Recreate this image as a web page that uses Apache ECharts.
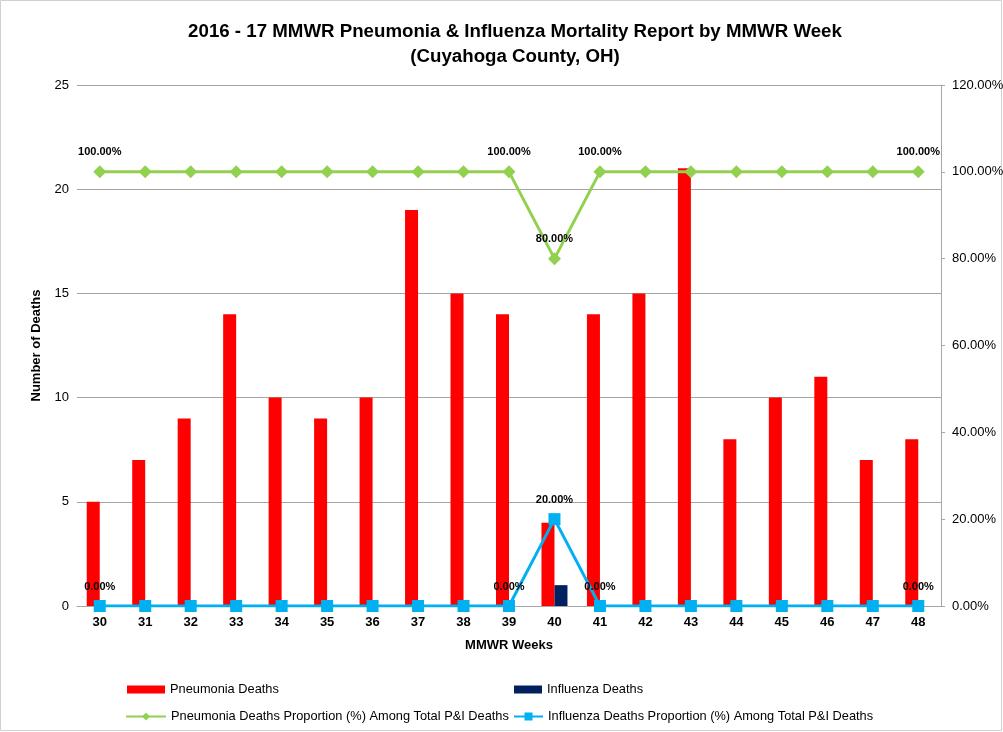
<!DOCTYPE html>
<html><head><meta charset="utf-8">
<script src="https://cdn.jsdelivr.net/npm/echarts@6/dist/echarts.min.js"></script>
<style>html,body{margin:0;padding:0;background:#fff}#c{width:1003px;height:732px}</style>
</head><body><div id="c"></div>
<script>
const weeks = ['30','31','32','33','34','35','36','37','38','39','40','41','42','43','44','45','46','47','48'];
const pneumoniaDeaths = [5,7,9,14,10,9,10,19,15,14,4,14,15,21,8,10,11,7,8];
const influenzaDeaths = [0,0,0,0,0,0,0,0,0,0,1,0,0,0,0,0,0,0,0];
const pneumoniaPct = [100,100,100,100,100,100,100,100,100,100,80,100,100,100,100,100,100,100,100];
const influenzaPct = [0,0,0,0,0,0,0,0,0,0,20,0,0,0,0,0,0,0,0];
const labeledIdx = [0,9,10,11,18];
const leftTicks = {min:0,max:25,interval:5};
const rightTicks = {min:0,max:120,interval:20};

const FONT = '"Liberation Sans", Arial, sans-serif';
function withLabels(arr){
  return arr.map((v,i)=>({value:v,label:{show:labeledIdx.includes(i)}}));
}
const lblStyle = {position:'top',distance:8,fontFamily:FONT,fontSize:11,fontWeight:'bold',color:'#000',
  formatter:p=>p.value.toFixed(2)+'%'};

const chart = echarts.init(document.getElementById('c'),null,{renderer:'canvas'});
const legendBase = {orient:'horizontal',padding:0,itemWidth:38,itemHeight:8,textStyle:{fontFamily:FONT,fontSize:12.8,color:'#000'},selectedMode:false,itemGap:4};
chart.setOption({
  animation:false,
  backgroundColor:'#fff',
  graphic:[{type:'rect',shape:{x:0.5,y:0.5,width:1001,height:730},style:{fill:'none',stroke:'#d0d0d0',lineWidth:1},silent:true}],
  title:{text:'2016 - 17 MMWR Pneumonia & Influenza Mortality Report by MMWR Week\n(Cuyahoga County, OH)',
    left:510,textAlign:'center',top:14,
    textStyle:{fontFamily:FONT,fontSize:18.7,fontWeight:'bold',color:'#000',lineHeight:25}},
  legend:[
    Object.assign({},legendBase,{left:127,top:683,data:[{name:'Pneumonia Deaths',icon:'rect'}]}),
    Object.assign({},legendBase,{left:514,top:683,itemWidth:28,data:[{name:'Influenza Deaths',icon:'rect'}]}),
    Object.assign({},legendBase,{left:125,top:710,itemWidth:40,itemHeight:10,data:[{name:'Pneumonia Deaths Proportion (%) Among Total P&I Deaths'}]}),
    Object.assign({},legendBase,{left:513,top:710,itemWidth:29,itemHeight:10,data:[{name:'Influenza Deaths Proportion (%) Among Total P&I Deaths'}]})
  ],
  grid:{left:77,right:62,top:85,bottom:126,outerBoundsMode:'none',containLabel:false},
  xAxis:{type:'category',data:weeks,name:'MMWR Weeks',nameLocation:'middle',nameGap:33,
    nameTextStyle:{fontFamily:FONT,fontSize:13,fontWeight:'bold',color:'#000'},
    axisLine:{lineStyle:{color:'#a6a6a6'}},axisTick:{show:false},
    axisLabel:{fontFamily:FONT,fontSize:13,fontWeight:'bold',color:'#000',margin:10}},
  yAxis:[
    {type:'value',min:leftTicks.min,max:leftTicks.max,interval:leftTicks.interval,
      name:'Number of Deaths',nameLocation:'middle',nameGap:34,nameRotate:90,
      nameTextStyle:{fontFamily:FONT,fontSize:13,fontWeight:'bold',color:'#000'},
      axisLine:{show:false},axisTick:{show:false},
      splitLine:{lineStyle:{color:'#a6a6a6'}},
      axisLabel:{fontFamily:FONT,fontSize:13,color:'#000',margin:8}},
    {type:'value',min:rightTicks.min,max:rightTicks.max,interval:rightTicks.interval,position:'right',
      axisLine:{show:true,lineStyle:{color:'#a6a6a6'}},axisTick:{show:true,length:4,lineStyle:{color:'#a6a6a6'}},
      splitLine:{show:false},
      axisLabel:{fontFamily:FONT,fontSize:13,color:'#000',margin:11,formatter:v=>v.toFixed(2)+'%'}}
  ],
  series:[
    {name:'Pneumonia Deaths',type:'bar',data:pneumoniaDeaths,barWidth:13,barGap:'0%',itemStyle:{color:'#ff0000'},z:2},
    {name:'Influenza Deaths',type:'bar',data:influenzaDeaths,barWidth:13,barGap:'0%',itemStyle:{color:'#002060'},z:2},
    {name:'Pneumonia Deaths Proportion (%) Among Total P&I Deaths',type:'line',yAxisIndex:1,data:withLabels(pneumoniaPct),
      symbol:'diamond',symbolSize:13,lineStyle:{color:'#92d050',width:3},itemStyle:{color:'#92d050'},label:lblStyle,z:5},
    {name:'Influenza Deaths Proportion (%) Among Total P&I Deaths',type:'line',yAxisIndex:1,data:withLabels(influenzaPct),
      symbol:'rect',symbolSize:12,lineStyle:{color:'#00b0f0',width:3},itemStyle:{color:'#00b0f0'},label:lblStyle,z:6}
  ]
});
</script></body></html>
